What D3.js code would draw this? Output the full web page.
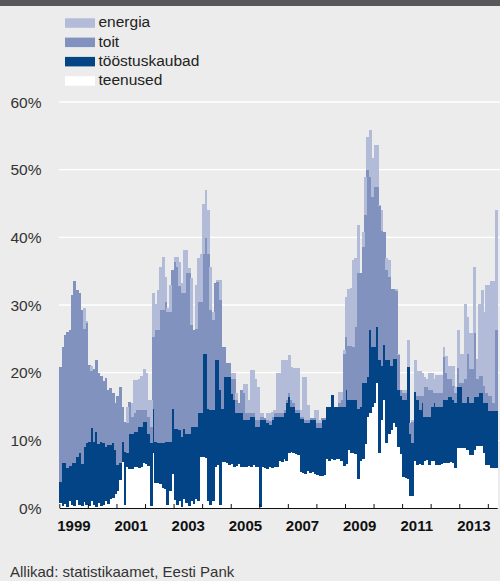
<!DOCTYPE html>
<html>
<head>
<meta charset="utf-8">
<script src="https://cdn.jsdelivr.net/npm/d3@7"></script>
<style>
  body { margin: 0; background: #ebeceb; }
  svg { display: block; }
  text { font-family: "Liberation Sans", Arial, sans-serif; }
</style>
</head>
<body>
<div id="chart"></div>
<script>
// monthly contributions (percentage points), Jan 1999 - Apr 2014
var teenused = [
    0.8,0.3,0.6,0.2,1.0,0.4,0.3,1.2,0.5,0.3,0.9,0.4,
    0.3,1.0,0.5,0.2,0.8,0.3,0.4,1.0,0.6,1.3,1.5,2.0,
    2.5,4.1,6.8,0.5,6.0,5.8,5.8,6.0,6.0,5.9,6.0,6.7,
    6.5,6.2,0.3,8.1,3.7,3.7,3.5,3.0,2.8,0.5,2.5,5.0,
    1.2,0.5,1.0,0.2,1.3,0.8,0.3,1.1,0.6,1.4,1.0,7.6,
    7.5,7.4,1.0,0.5,1.0,6.1,6.3,0.5,6.8,6.8,6.6,6.4,
    6.5,6.0,6.2,6.5,6.1,6.0,6.1,6.2,6.0,6.3,6.1,6.0,
    0.2,6.0,5.9,5.8,6.0,5.9,6.1,6.0,6.9,6.8,7.2,7.0,
    8.2,8.3,8.2,8.0,7.8,5.3,5.2,5.0,5.4,5.1,5.3,5.0,
    4.9,4.7,4.8,4.9,7.2,7.0,7.3,7.1,7.2,7.3,6.9,6.2,
    6.5,8.5,8.1,8.2,8.0,4.3,7.0,7.2,9.5,13.5,14.0,15.0,
    15.5,18.4,8.1,13.0,16.0,9.6,11.0,11.5,12.5,12.0,9.0,8.0,
    4.6,4.4,4.3,1.7,1.8,7.0,6.4,6.5,6.3,7.0,7.1,6.4,
    6.9,6.9,6.4,6.4,6.5,6.7,6.7,6.7,6.8,6.7,5.9,8.8,
    8.8,8.8,8.8,8.5,7.8,7.8,8.6,9.1,9.1,9.1,8.2,6.4,
    6.4,5.9,5.9,5.9
]
var toostuskaubad = [
    3.1,6.3,6.0,5.7,5.2,6.2,6.3,6.3,7.6,6.2,8.1,9.2,
    9.5,10.8,9.3,11.0,8.7,9.5,9.2,8.0,8.7,8.0,8.1,6.6,
    3.9,2.5,3.0,7.8,2.1,5.2,5.2,5.3,5.3,6.1,6.0,6.0,
    6.2,4.8,9.3,6.6,6.1,5.9,6.1,6.6,7.0,9.3,7.3,9.7,
    10.5,11.2,10.5,10.3,10.4,10.2,10.7,10.9,11.4,10.6,13.0,6.4,
    15.3,15.4,13.7,14.0,13.5,15.8,15.5,16.9,7.9,12.6,12.8,13.0,
    10.4,10.0,7.8,7.5,7.9,7.0,6.9,6.8,7.5,7.2,5.9,6.0,
    12.8,7.0,7.1,6.7,6.3,7.1,7.4,7.5,6.6,6.7,6.8,8.5,
    8.2,6.7,6.8,6.0,6.2,7.9,8.0,7.5,7.1,7.9,7.7,8.0,
    6.9,7.1,8.2,8.1,7.8,8.0,9.4,7.9,7.8,7.7,8.1,8.8,
    10.9,7.5,7.9,7.8,8.0,10.4,8.0,11.2,8.9,5.9,12.3,8.8,
    8.3,8.4,13.8,8.0,8.1,12.3,10.9,9.5,9.5,10.0,8.4,8.5,
    11.4,11.6,16.6,9.3,7.8,10.2,9.6,8.0,9.2,6.5,6.4,7.1,
    8.1,8.6,8.6,8.6,8.5,9.2,9.2,9.7,9.6,9.3,9.6,9.1,
    9.1,6.7,6.7,7.9,7.7,7.7,7.8,7.3,7.9,7.9,7.3,9.1,
    7.9,8.4,8.4,8.4
]
var toit = [
    17.0,17.2,18.9,20.1,20.1,24.9,26.9,24.7,23.6,22.7,17.5,17.8,
    11.3,8.5,10.7,10.6,10.5,9.7,9.1,10.2,8.1,8.4,7.4,6.9,
    10.2,11.3,5.2,4.4,4.4,4.7,2.5,2.7,3.2,2.5,2.5,1.8,
    1.8,2.5,2.4,10.6,16.5,16.7,19.6,19.6,20.7,19.2,19.2,20.5,
    24.7,23.9,21.3,21.2,20.0,23.8,23.8,15.0,14.3,14.4,16.5,16.5,
    14.8,17.1,22.8,14.7,13.3,11.3,11.6,13.4,9.1,4.4,2.0,2.0,
    2.1,3.0,2.0,1.5,3.5,4.0,1.0,1.0,0.5,0.5,1.0,1.0,
    0.5,0.5,0.3,0.5,0.5,0.5,0.5,0.5,0.5,0.5,0.5,0.5,
    0.6,1.0,0.5,0.5,0.5,0.3,0.3,0.5,0.5,0.3,0.3,0.3,
    0.7,0.7,0.3,0.3,0,0,0,0,0,0.5,1.0,7.8,
    7.9,8.0,8.0,7.8,10.8,20.0,19.7,20.2,24.9,30.5,22.6,22.2,
    23.7,20.7,22.8,20.0,16.7,13.3,12.3,11.4,10.4,10.0,5.2,0.9,
    1.0,1.0,0,1.5,3.1,0,0.5,2.0,1.0,4.4,4.4,4.0,
    2.5,1.5,2.0,2.0,2.0,6.4,4.1,2.6,2.6,2.0,1.5,2.8,
    0.6,3.0,3.5,6.4,5.0,5.0,9.4,2.6,2.5,2.5,2.5,1.5,
    2.2,2.2,1.2,12.0
]
var energia = [
    0,0,0,0,0,0,0,0,0,0,3.0,0.3,
    0,0.7,0,0,0,0,0,0,0,0,0,0,
    0,0,0,0,2.5,0,2.0,4.9,4.4,4.5,5.0,6.1,
    5.5,2.5,4.0,6.4,3.9,5.9,6.4,7.9,3.7,0.5,4.0,0,
    0.7,1.5,3.6,1.5,6.4,3.3,0.6,7.0,0,6.6,6.4,7.1,
    7.4,7.1,6.5,6.4,1.2,0,0.3,2.9,0,0,0,0,
    0.9,0.9,1.0,0,0,1.3,4.3,1.9,6.4,6.4,6.0,4.9,
    0.5,0.5,0,1.0,1.2,0.7,0.5,6.0,6.0,7.9,7.4,5.9,
    5.6,4.9,5.2,6.2,6.2,1.0,5.9,6.4,2.2,0,0,1.2,
    2.0,0.5,0,0,0,0,0,0,0,1.7,1.2,0.5,
    5.9,8.4,8.5,12.8,10.1,7.1,0,2.2,5.6,4.9,7.0,5.7,
    6.1,6.1,0.1,3.0,0,1.8,2.4,0,0,0.4,0.2,0,
    0.4,0.4,3.9,0,0.3,4.7,3.8,3.8,3.5,1.5,1.1,2.4,
    2.4,2.0,2.6,2.6,2.6,1.5,2.4,2.0,2.0,3.0,0.9,5.6,
    4.3,4.3,11.2,5.4,5.3,5.3,9.8,3.0,10.7,12.7,11.0,15.9,
    16.4,17.0,18.0,17.7
]

var keys = ["teenused", "toostuskaubad", "toit", "energia"]
var labels = {energia: "energia", toit: "toit", toostuskaubad: "tööstuskaubad", teenused: "teenused"}
var colors = {energia: "#b2bcd9", toit: "#8192bf", toostuskaubad: "#034486", teenused: "#ffffff"}
var legendOrder = ["energia", "toit", "toostuskaubad", "teenused"]

var yTicks = [0, 10, 20, 30, 40, 50, 60]
var labelYears = [1999, 2001, 2003, 2005, 2007, 2009, 2011, 2013]

var width = 500, height = 581;
var start = new Date(1999, 0, 1), end = new Date(2014, 4, 1);
var months = d3.timeMonth.range(start, end);

var rows = months.map(function (m, i) {
    return {date: m, teenused: teenused[i], toostuskaubad: toostuskaubad[i], toit: toit[i], energia: energia[i]};
});
var series = d3.stack().keys(keys)(rows);

var svg = d3.select("#chart")
    .append("svg")
    .attr("width", width)
    .attr("height", height)

svg.append("rect")
    .attr("width", width).attr("height", height)
    .attr("fill", "#ebeceb")

// dark strip on top
svg.append("rect")
    .attr("width", width).attr("height", 6)
    .attr("fill", "#58585a")

var x = d3.scaleTime()
    .domain([start, end])
    .range([59.3, 497.2]);

var y = d3.scaleLinear()
    .domain([0, 60])
    .range([508, 102]);

// grid lines
svg.append("g")
    .selectAll("line")
    .data(yTicks.slice(1))
    .enter()
    .append("line")
    .attr("x1", 59)
    .attr("x2", width)
    .attr("y1", function (d) { return y(d); })
    .attr("y2", function (d) { return y(d); })
    .attr("stroke", "#ffffff")
    .attr("stroke-width", 1.3)

// y labels
svg.append("g")
    .selectAll("text")
    .data(yTicks)
    .enter()
    .append("text")
    .attr("x", 41.5)
    .attr("y", function (d) { return y(d); })
    .attr("dy", "0.36em")
    .attr("text-anchor", "end")
    .style("font-size", "15.5px")
    .attr("fill", "#333")
    .text(function (d) { return d + "%"; })

// stacked monthly bars
var layers = svg.append("g")
    .attr("shape-rendering", "crispEdges")
    .selectAll("g")
    .data(series)
    .enter()
    .append("g")
    .attr("fill", function (d) { return colors[d.key]; })

layers.selectAll("rect")
    .data(function (d) { return d; })
    .enter()
    .append("rect")
    .attr("x", function (d) { return x(d.data.date); })
    .attr("width", function (d) { return x(d3.timeMonth.offset(d.data.date, 1)) - x(d.data.date) + 0.5; })
    .attr("y", function (d) { return y(d[1]); })
    .attr("height", function (d) { return Math.max(0, y(d[0]) - y(d[1])); })

// x axis: year ticks
var xAxis = svg.append("g")
    .attr("transform", "translate(0," + y(0) + ")")
    .call(d3.axisBottom(x)
        .tickValues(d3.timeYear.range(start, end))
        .tickSize(-4)
        .tickSizeOuter(0)
        .tickFormat(""))
xAxis.select(".domain").attr("stroke", "#111").attr("stroke-width", 1.2)
xAxis.selectAll(".tick line").attr("stroke", "#111")

// year labels in the middle of the year
var xLabels = svg.append("g")
    .attr("transform", "translate(0," + y(0) + ")")
    .call(d3.axisBottom(x)
        .tickValues(labelYears.map(function (yr) { return new Date(yr, 6, 1); }))
        .tickSize(0)
        .tickPadding(12)
        .tickFormat(d3.timeFormat("%Y")))
xLabels.select(".domain").remove()
xLabels.selectAll("text")
    .style("font-family", "'Liberation Sans', Arial, sans-serif")
    .style("font-size", "15px")
    .style("font-weight", "bold")
    .attr("fill", "#111")

// legend
var legend = svg.append("g")
    .selectAll("g")
    .data(legendOrder)
    .enter()
    .append("g")
    .attr("transform", function (d, i) { return "translate(65," + (18.3 + i * 19.3) + ")"; })

legend.append("rect")
    .attr("width", 30)
    .attr("height", 9.5)
    .attr("fill", function (d) { return colors[d]; })

legend.append("text")
    .attr("x", 33.5)
    .attr("y", 9)
    .style("font-size", "15.5px")
    .attr("fill", "#222")
    .text(function (d) { return labels[d]; })

// source
svg.append("text")
    .attr("x", 10)
    .attr("y", 577)
    .style("font-size", "15px")
    .attr("fill", "#333")
    .text("Allikad: statistikaamet, Eesti Pank")
</script>
</body>
</html>
